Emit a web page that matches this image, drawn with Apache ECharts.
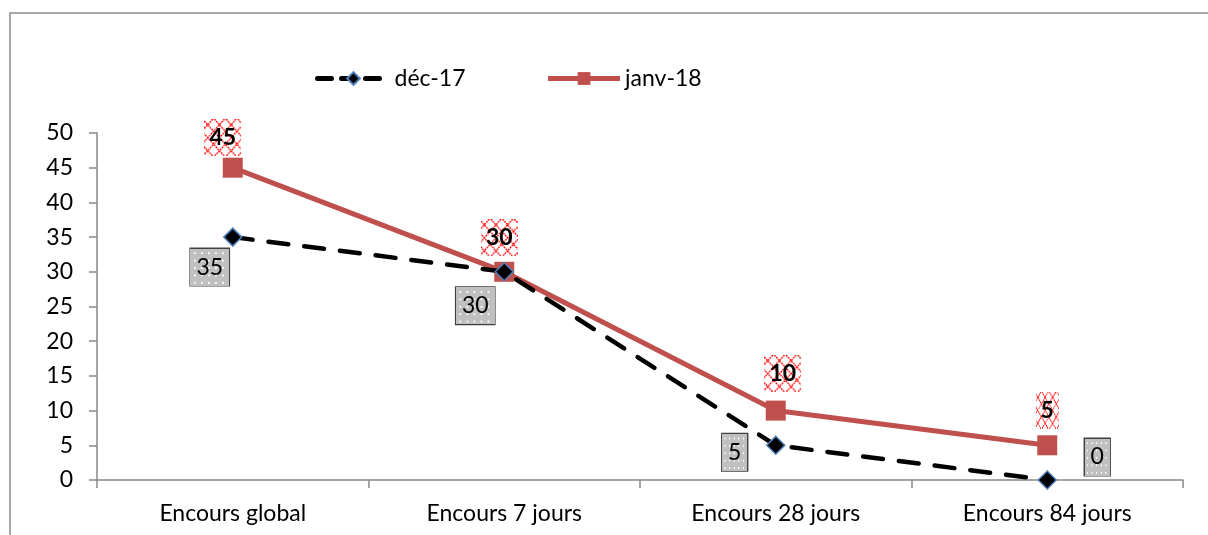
<!DOCTYPE html>
<html>
<head>
<meta charset="utf-8">
<script src="https://cdn.jsdelivr.net/npm/echarts@6/dist/echarts.min.js"></script>
<style>
	html, body { margin: 0; padding: 0; background: #fff; }
	#main { width: 1208px; height: 535px; }
</style>
</head>
<body>
<div id="main"></div>
<script>
'use strict';

var categories = ['Encours global', 'Encours 7 jours', 'Encours 28 jours', 'Encours 84 jours'];
var decValues = [35, 30, 5, 0];
var janvValues = [45, 30, 10, 5];
var yTicks = [0, 5, 10, 15, 20, 25, 30, 35, 40, 45, 50];

// décalage des étiquettes (px)
var decOffsets = [[-23, 30], [-29, 34], [-41, 7], [50, -23]];
var janvOffsets = [[-10, -30], [-5, -34], [7, -37], [0, -35]];

var FONT = 'Lato, "Open Sans", sans-serif';

// fond gris pointillé
function grayPattern() {
	var c = document.createElement('canvas');
	c.width = 44; c.height = 40;
	var ctx = c.getContext('2d');
	ctx.fillStyle = '#c0c0c0';
	ctx.fillRect(0, 0, 44, 40);
	ctx.fillStyle = '#ffffff';
	for (var x = 4; x < 44; x += 8) {
		for (var y = 4; y < 40; y += 8) {
			ctx.fillRect(x, y, 2, 2);
		}
	}
	return c;
}

// fond quadrillé rouge
function redPattern() {
	var c = document.createElement('canvas');
	c.width = 44; c.height = 40;
	var ctx = c.getContext('2d');
	ctx.fillStyle = '#ffffff';
	ctx.fillRect(0, 0, 44, 40);
	ctx.strokeStyle = '#ff0000';
	ctx.lineWidth = 1.6;
	ctx.setLineDash([2, 1]);
	for (var k = -44; k < 88; k += 14) {
		ctx.beginPath();
		ctx.moveTo(k, 0); ctx.lineTo(k + 40, 40);
		ctx.stroke();
		ctx.beginPath();
		ctx.moveTo(k + 40, 0); ctx.lineTo(k, 40);
		ctx.stroke();
	}
	return c;
}

var grayBg = grayPattern();
var redBg = redPattern();

var chart = echarts.init(document.getElementById('main'));

var option = {
	animation: false,
	backgroundColor: '#ffffff',
	graphic: [{
		type: 'rect',
		shape: { x: 10, y: 13, width: 1220, height: 540 },
		style: { fill: null, stroke: '#8c8c8c', lineWidth: 1.5 },
		silent: true
	}],
	legend: {
		top: 62,
		left: 310,
		itemWidth: 72,
		itemHeight: 16,
		itemGap: 80,
		textStyle: { fontFamily: FONT, fontSize: 23, color: '#000' },
		data: [{
			name: 'déc-17',
			lineStyle: { width: 5, type: [14, 10] }
		}, {
			name: 'janv-18',
			lineStyle: { width: 5 }
		}]
	},
	grid: { left: 97, right: 25, top: 133, bottom: 55 },
	xAxis: {
		type: 'category',
		data: categories,
		boundaryGap: true,
		axisLine: { lineStyle: { color: '#888', width: 1.5 } },
		axisTick: { show: true, inside: false, length: 8, lineStyle: { color: '#888', width: 1.5 } },
		axisLabel: { fontFamily: FONT, fontSize: 23, color: '#000', margin: 22 },
		splitLine: { show: false }
	},
	yAxis: {
		type: 'value',
		min: yTicks[0],
		max: yTicks[yTicks.length - 1],
		interval: 5,
		axisLine: { show: true, lineStyle: { color: '#888', width: 1.5 } },
		axisTick: { show: true, length: 8, lineStyle: { color: '#888', width: 1.5 } },
		axisLabel: { fontFamily: FONT, fontSize: 23, color: '#000', margin: 24 },
		splitLine: { show: false }
	},
	series: [{
		name: 'déc-17',
		type: 'line',
		z: 3,
		data: decValues.map(function (v, i) {
			return { value: v, label: { offset: decOffsets[i] } };
		}),
		symbol: 'diamond',
		symbolSize: 18,
		itemStyle: { color: '#000', borderColor: '#4f81bd', borderWidth: 1.5 },
		lineStyle: { color: '#000', width: 4.5, type: [20, 16], cap: 'round' },
		label: {
			show: true,
			position: 'inside',
			fontFamily: FONT,
			fontSize: 23,
			color: '#000',
			backgroundColor: { image: grayBg },
			borderColor: '#404040',
			borderWidth: 2,
			padding: [8, 6, 6, 6]
		}
	}, {
		name: 'janv-18',
		type: 'line',
		z: 2,
		data: janvValues.map(function (v, i) {
			return { value: v, label: { offset: janvOffsets[i] } };
		}),
		symbol: 'rect',
		symbolSize: 20,
		itemStyle: { color: '#c0504d' },
		lineStyle: { color: '#c0504d', width: 5 },
		label: {
			show: true,
			position: 'inside',
			fontFamily: FONT,
			fontSize: 23,
			fontWeight: 'bold',
			color: '#000',
			backgroundColor: { image: redBg },
			padding: [8, 5, 6, 5]
		}
	}]
};

chart.setOption(option);
</script>
</body>
</html>
